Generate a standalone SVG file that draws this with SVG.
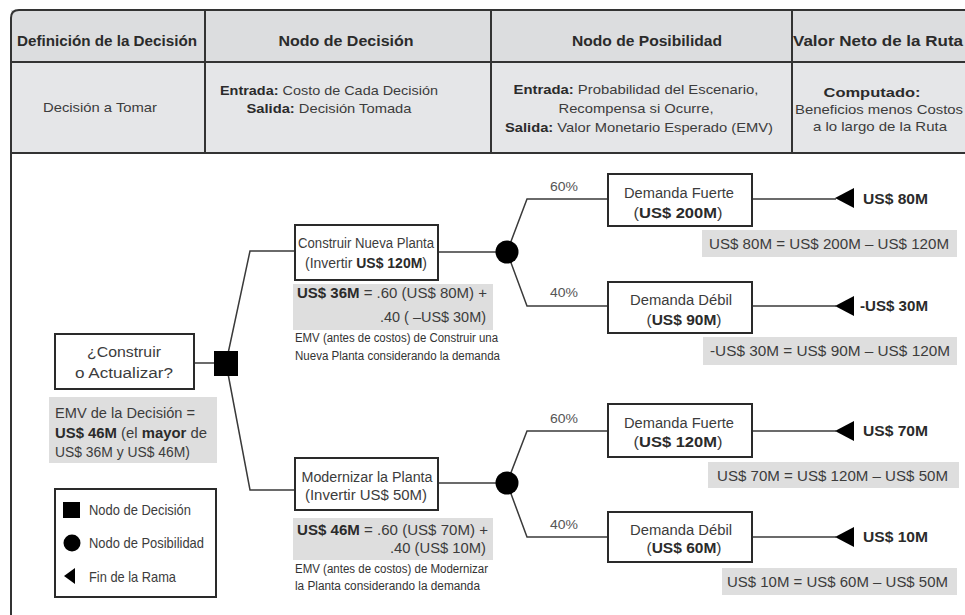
<svg xmlns="http://www.w3.org/2000/svg" width="965" height="615" viewBox="0 0 965 615">
  <defs>
    <style>
      text { font-family: "Liberation Sans", Arial, sans-serif; fill: #3c3c3c; }
      .hd { font-size: 14.5px; font-weight: bold; fill: #2b2b2b; text-anchor: middle; }
      .rw { font-size: 13.5px; text-anchor: middle; }
      .b { font-weight: bold; fill: #2b2b2b; }
      .nd { font-size: 14px; text-anchor: middle; }
      .cap { font-size: 12px; fill: #333; }
      .emv { font-size: 14px; }
      .pct { font-size: 12.5px; fill: #555; }
      .end { font-size: 14px; font-weight: bold; fill: #2b2b2b; }
      .net { font-size: 14px; text-anchor: end; }
      .lg { font-size: 14.5px; }
      .box { fill: #ffffff; stroke: #2a2a2a; stroke-width: 2; }
      .gray { fill: #dedede; }
      .edge { fill: none; stroke: #3a3a3a; stroke-width: 1.5; }
      .grid { fill: none; stroke: #333; stroke-width: 2; }
    </style>
  </defs>

  <rect width="965" height="615" fill="#ffffff"/>

  <!-- table header -->
  <g id="table">
    <rect x="11" y="10" width="960" height="52" fill="#dcdddf"/>
    <rect x="11" y="62" width="960" height="91" fill="#e5e6e8"/>
    <path class="grid" d="M11 615 V18 Q11 10 19 10 H972" stroke-width="2.5"/>
    <line class="grid" x1="11" y1="62" x2="965" y2="62"/>
    <line class="grid" x1="11" y1="153" x2="965" y2="153"/>
    <line class="grid" x1="205" y1="10" x2="205" y2="153"/>
    <line class="grid" x1="491" y1="10" x2="491" y2="153"/>
    <line class="grid" x1="792" y1="10" x2="792" y2="153"/>

    <text class="hd" x="107" y="46" textLength="180" lengthAdjust="spacingAndGlyphs">Definición de la Decisión</text>
    <text class="hd" x="346" y="46" textLength="135" lengthAdjust="spacingAndGlyphs">Nodo de Decisión</text>
    <text class="hd" x="647" y="46" textLength="150" lengthAdjust="spacingAndGlyphs">Nodo de Posibilidad</text>
    <text class="hd" x="878" y="46" textLength="170" lengthAdjust="spacingAndGlyphs">Valor Neto de la Ruta</text>

    <text class="rw" x="100" y="112" textLength="114" lengthAdjust="spacingAndGlyphs">Decisión a Tomar</text>
    <text class="rw" x="329" y="95" textLength="218" lengthAdjust="spacingAndGlyphs"><tspan class="b">Entrada:</tspan> Costo de Cada Decisión</text>
    <text class="rw" x="329" y="113" textLength="165" lengthAdjust="spacingAndGlyphs"><tspan class="b">Salida:</tspan> Decisión Tomada</text>
    <text class="rw" x="636" y="94" textLength="245" lengthAdjust="spacingAndGlyphs"><tspan class="b">Entrada:</tspan> Probabilidad del Escenario,</text>
    <text class="rw" x="636" y="113" textLength="155" lengthAdjust="spacingAndGlyphs">Recompensa si Ocurre,</text>
    <text class="rw" x="639" y="132" textLength="268" lengthAdjust="spacingAndGlyphs"><tspan class="b">Salida:</tspan> Valor Monetario Esperado (EMV)</text>
    <text class="rw b" x="872" y="97" textLength="97" lengthAdjust="spacingAndGlyphs">Computado:</text>
    <text class="rw" x="879" y="114" textLength="168" lengthAdjust="spacingAndGlyphs">Beneficios menos Costos</text>
    <text class="rw" x="880" y="131" textLength="134" lengthAdjust="spacingAndGlyphs">a lo largo de la Ruta</text>
  </g>

  <!-- connectors -->
  <g id="connectors">
    <line class="edge" x1="194" y1="363" x2="226" y2="363"/>
    <polyline class="edge" points="226,363 250,251 295,251"/>
    <polyline class="edge" points="226,363 250,490 295,490"/>
    <line class="edge" x1="438" y1="252" x2="507" y2="252"/>
    <line class="edge" x1="438" y1="483" x2="507" y2="483"/>
    <polyline class="edge" points="507,252 527,199 608,199"/>
    <polyline class="edge" points="507,252 527,306 608,306"/>
    <polyline class="edge" points="507,483 527,431 608,431"/>
    <polyline class="edge" points="507,483 527,537 608,537"/>
    <line class="edge" x1="752" y1="199" x2="836" y2="199"/>
    <line class="edge" x1="752" y1="306" x2="836" y2="306"/>
    <line class="edge" x1="752" y1="431" x2="836" y2="431"/>
    <line class="edge" x1="752" y1="537" x2="836" y2="537"/>
  </g>

  <!-- root decision -->
  <g id="decision-root">
    <rect class="box" x="55" y="334" width="139" height="55"/>
    <text class="nd" x="124" y="357" textLength="74" lengthAdjust="spacingAndGlyphs">¿Construir</text>
    <text class="nd" x="124" y="378" textLength="98" lengthAdjust="spacingAndGlyphs">o Actualizar?</text>
  </g>
  <g id="decision-node">
    <rect x="214" y="351" width="24" height="25" fill="#000"/>
  </g>
  <g id="decision-emv">
    <rect class="gray" x="49" y="397" width="168" height="66"/>
    <text class="emv" x="55" y="418" textLength="140" lengthAdjust="spacingAndGlyphs">EMV de la Decisión =</text>
    <text class="emv" x="55" y="438" textLength="152" lengthAdjust="spacingAndGlyphs"><tspan class="b">US$ 46M</tspan> (el <tspan class="b">mayor</tspan> de</text>
    <text class="emv" x="55" y="457" textLength="135" lengthAdjust="spacingAndGlyphs">US$ 36M y US$ 46M)</text>
  </g>

  <!-- legend -->
  <g id="legend">
    <rect class="box" x="55" y="489" width="161" height="108" stroke-width="1.8"/>
    <rect x="63" y="502" width="17" height="16" fill="#000"/>
    <circle cx="72" cy="543" r="8.5" fill="#000"/>
    <polygon points="64,576 75,568 75,584" fill="#000"/>
    <text class="lg" x="89" y="515" textLength="102" lengthAdjust="spacingAndGlyphs">Nodo de Decisión</text>
    <text class="lg" x="89" y="548" textLength="115" lengthAdjust="spacingAndGlyphs">Nodo de Posibilidad</text>
    <text class="lg" x="89" y="582" textLength="87" lengthAdjust="spacingAndGlyphs">Fin de la Rama</text>
  </g>

  <!-- option: new plant -->
  <g id="option-build">
    <rect class="box" x="295" y="225" width="143" height="55"/>
    <text class="nd" x="366" y="248" textLength="136" lengthAdjust="spacingAndGlyphs">Construir Nueva Planta</text>
    <text class="nd" x="366" y="268" textLength="122" lengthAdjust="spacingAndGlyphs">(Invertir <tspan class="b">US$ 120M</tspan>)</text>
    <rect class="gray" x="293" y="284" width="200" height="46"/>
    <text class="emv" x="297" y="298" textLength="190" lengthAdjust="spacingAndGlyphs"><tspan class="b">US$ 36M</tspan> = .60 (US$ 80M) +</text>
    <text class="emv" x="486" y="322" text-anchor="end" textLength="106" lengthAdjust="spacingAndGlyphs">.40 ( –US$ 30M)</text>
    <text class="cap" x="295" y="342" textLength="203" lengthAdjust="spacingAndGlyphs">EMV (antes de costos) de Construir una</text>
    <text class="cap" x="295" y="360" textLength="205" lengthAdjust="spacingAndGlyphs">Nueva Planta considerando la demanda</text>
  </g>

  <!-- option: modernize -->
  <g id="option-modernize">
    <rect class="box" x="295" y="458" width="143" height="52"/>
    <text class="nd" x="367" y="482" textLength="131" lengthAdjust="spacingAndGlyphs">Modernizar la Planta</text>
    <text class="nd" x="366" y="500" textLength="122" lengthAdjust="spacingAndGlyphs">(Invertir US$ 50M)</text>
    <rect class="gray" x="293" y="518" width="200" height="42"/>
    <text class="emv" x="297" y="535" textLength="191" lengthAdjust="spacingAndGlyphs"><tspan class="b">US$ 46M</tspan> = .60 (US$ 70M) +</text>
    <text class="emv" x="486" y="553" text-anchor="end" textLength="96" lengthAdjust="spacingAndGlyphs">.40 (US$ 10M)</text>
    <text class="cap" x="295" y="573" textLength="193" lengthAdjust="spacingAndGlyphs">EMV (antes de costos) de Modernizar</text>
    <text class="cap" x="295" y="590" textLength="185" lengthAdjust="spacingAndGlyphs">la Planta considerando la demanda</text>
  </g>

  <!-- chance nodes -->
  <g id="chance-build"><circle cx="507" cy="252" r="11.5" fill="#000"/></g>
  <g id="chance-modernize"><circle cx="507" cy="483" r="11.5" fill="#000"/></g>

  <!-- probabilities -->
  <g id="probabilities">
    <text class="pct" x="550" y="191" textLength="28" lengthAdjust="spacingAndGlyphs">60%</text>
    <text class="pct" x="550" y="297" textLength="28" lengthAdjust="spacingAndGlyphs">40%</text>
    <text class="pct" x="550" y="423" textLength="28" lengthAdjust="spacingAndGlyphs">60%</text>
    <text class="pct" x="550" y="529" textLength="28" lengthAdjust="spacingAndGlyphs">40%</text>
  </g>

  <!-- outcome: build, strong demand -->
  <g id="build-strong">
    <rect class="box" x="608" y="174" width="144" height="52"/>
    <text class="nd" x="679" y="198" textLength="110" lengthAdjust="spacingAndGlyphs">Demanda Fuerte</text>
    <text class="nd" x="678" y="218" textLength="89" lengthAdjust="spacingAndGlyphs">(<tspan class="b">US$ 200M</tspan>)</text>
    <polygon points="835,198 854,188 854,208" fill="#000"/>
    <text class="end" x="863" y="204" textLength="65" lengthAdjust="spacingAndGlyphs">US$ 80M</text>
    <rect class="gray" x="702" y="230" width="255" height="27"/>
    <text class="net" x="949" y="249" textLength="240" lengthAdjust="spacingAndGlyphs">US$ 80M = US$ 200M – US$ 120M</text>
  </g>

  <!-- outcome: build, weak demand -->
  <g id="build-weak">
    <rect class="box" x="608" y="282" width="144" height="51"/>
    <text class="nd" x="681" y="305" textLength="102" lengthAdjust="spacingAndGlyphs">Demanda Débil</text>
    <text class="nd" x="684" y="325" textLength="75" lengthAdjust="spacingAndGlyphs">(<tspan class="b">US$ 90M</tspan>)</text>
    <polygon points="835,306 854,296 854,316" fill="#000"/>
    <text class="end" x="860" y="311" textLength="68" lengthAdjust="spacingAndGlyphs">-US$ 30M</text>
    <rect class="gray" x="703" y="337" width="254" height="28"/>
    <text class="net" x="950" y="356" textLength="240" lengthAdjust="spacingAndGlyphs">-US$ 30M = US$ 90M – US$ 120M</text>
  </g>

  <!-- outcome: modernize, strong demand -->
  <g id="modernize-strong">
    <rect class="box" x="608" y="404" width="144" height="53"/>
    <text class="nd" x="679" y="428" textLength="110" lengthAdjust="spacingAndGlyphs">Demanda Fuerte</text>
    <text class="nd" x="678" y="447" textLength="89" lengthAdjust="spacingAndGlyphs">(<tspan class="b">US$ 120M</tspan>)</text>
    <polygon points="835,431 854,421 854,441" fill="#000"/>
    <text class="end" x="863" y="436" textLength="65" lengthAdjust="spacingAndGlyphs">US$ 70M</text>
    <rect class="gray" x="708" y="462" width="251" height="26"/>
    <text class="net" x="948" y="481" textLength="231" lengthAdjust="spacingAndGlyphs">US$ 70M = US$ 120M – US$ 50M</text>
  </g>

  <!-- outcome: modernize, weak demand -->
  <g id="modernize-weak">
    <rect class="box" x="608" y="512" width="144" height="50"/>
    <text class="nd" x="681" y="535" textLength="102" lengthAdjust="spacingAndGlyphs">Demanda Débil</text>
    <text class="nd" x="684" y="553" textLength="75" lengthAdjust="spacingAndGlyphs">(<tspan class="b">US$ 60M</tspan>)</text>
    <polygon points="835,537 854,527 854,547" fill="#000"/>
    <text class="end" x="863" y="542" textLength="65" lengthAdjust="spacingAndGlyphs">US$ 10M</text>
    <rect class="gray" x="722" y="568" width="235" height="27"/>
    <text class="net" x="948" y="587" textLength="221" lengthAdjust="spacingAndGlyphs">US$ 10M = US$ 60M – US$ 50M</text>
  </g>
</svg>
